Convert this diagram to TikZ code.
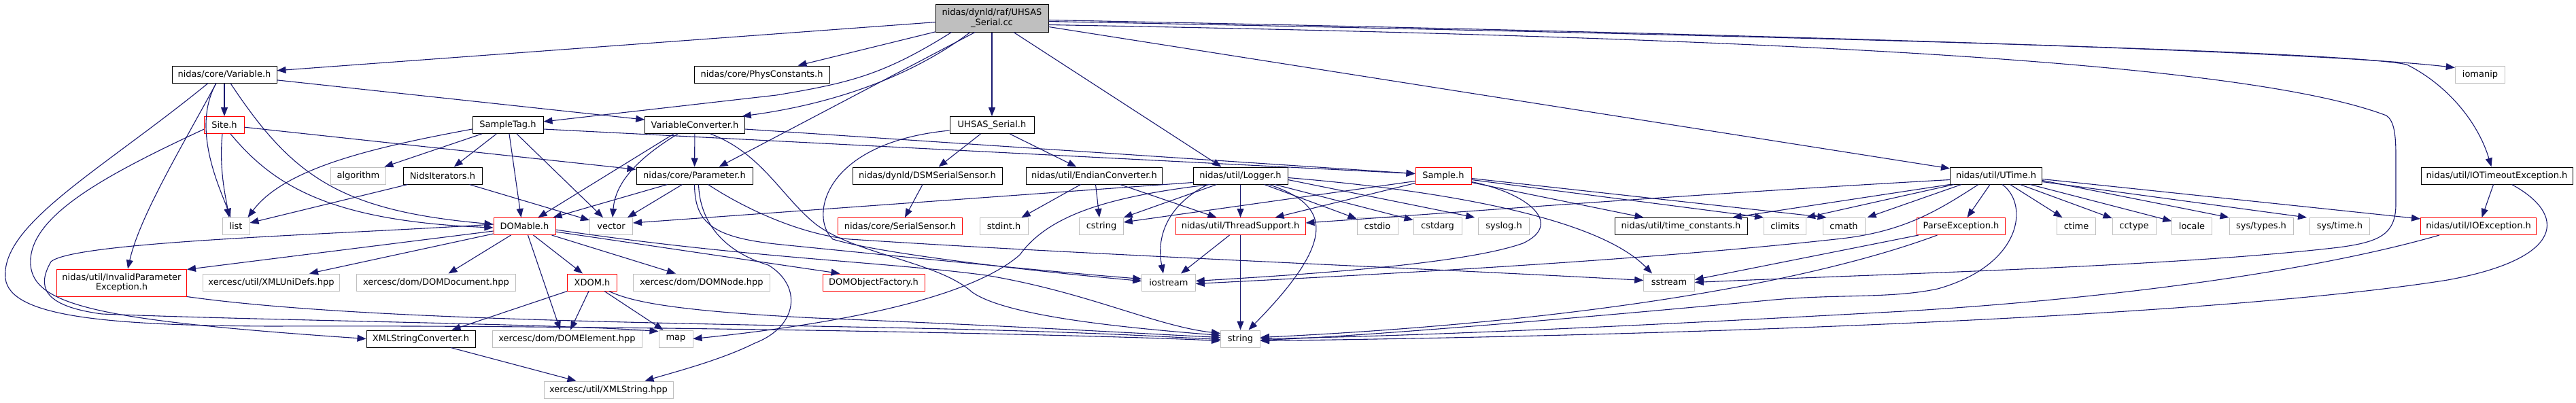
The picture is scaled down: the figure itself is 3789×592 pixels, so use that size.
\documentclass[tikz,border=0pt]{standalone}
\usepackage{fontspec}
\setmainfont{DejaVu Sans}
\usetikzlibrary{arrows.meta,calc}
\definecolor{edgec}{HTML}{191970}
\definecolor{greyb}{HTML}{BFBFBF}
\tikzset{
 base/.style={rectangle, inner sep=0pt, minimum height=25pt, font=\fontsize{13}{14.5}\selectfont, line width=1pt, fill=white, text=black},
 doc/.style={base, draw=black},
 redn/.style={base, draw=red},
 sys/.style={base, draw=greyb},
 root/.style={base, draw=black, fill=greyb},
 conn/.style={draw=edgec, line width=1.1pt, arrows={-Triangle[length=13pt,width=10pt]}},
}
\begin{document}
\begin{tikzpicture}[x=1pt,y=-1pt]
\useasboundingbox (0,0) rectangle (3789,592);
% nodes
\node[root, minimum width=166pt, minimum height=41pt, align=center] (cc) at (1459,26.5) {nidas/dynld/raf/UHSAS\\\_Serial.cc};
\node[doc, minimum width=154pt] (var) at (330,109.5) {nidas/core/Variable.h};
\node[doc, minimum width=199pt] (phys) at (1120.5,109.5) {nidas/core/PhysConstants.h};
\node[sys, minimum width=73.5pt] (iomanip) at (3648,109.5) {iomanip};
\node[redn, minimum width=58.5pt] (site) at (330,184) {Site.h};
\node[doc, minimum width=104pt] (stag) at (747,184) {SampleTag.h};
\node[doc, minimum width=146.5pt] (vconv) at (1022,184) {VariableConverter.h};
\node[doc, minimum width=124pt] (uhsash) at (1459,184) {UHSAS\_Serial.h};
\node[sys, minimum width=81.5pt] (algorithm) at (527,258.5) {algorithm};
\node[doc, minimum width=116pt] (nids) at (651,258.5) {NidsIterators.h};
\node[doc, minimum width=171pt] (param) at (1021.5,258.5) {nidas/core/Parameter.h};
\node[doc, minimum width=220pt] (dsmser) at (1364,258.5) {nidas/dynld/DSMSerialSensor.h};
\node[doc, minimum width=200pt] (endian) at (1609.5,258.5) {nidas/util/EndianConverter.h};
\node[doc, minimum width=139pt] (logger) at (1824.5,258.5) {nidas/util/Logger.h};
\node[redn, minimum width=82pt] (sample) at (2123,258.5) {Sample.h};
\node[doc, minimum width=135pt] (utime) at (2936,258.5) {nidas/util/UTime.h};
\node[doc, minimum width=223pt] (iotimeout) at (3672.5,258.5) {nidas/util/IOTimeoutException.h};
\node[sys, minimum width=40pt] (list) at (347,333) {list};
\node[redn, minimum width=91pt] (domable) at (771.5,333) {DOMable.h};
\node[sys, minimum width=63pt] (vector) at (899,333) {vector};
\node[redn, minimum width=183.5pt] (serialsensor) at (1324,333) {nidas/core/SerialSensor.h};
\node[sys, minimum width=71pt] (stdint) at (1476.5,333) {stdint.h};
\node[sys, minimum width=64.5pt] (cstring) at (1620,333) {cstring};
\node[redn, minimum width=191pt] (thread) at (1824.5,333) {nidas/util/ThreadSupport.h};
\node[sys, minimum width=60pt] (cstdio) at (2026,333) {cstdio};
\node[sys, minimum width=71pt] (cstdarg) at (2114.5,333) {cstdarg};
\node[sys, minimum width=74.5pt] (syslog) at (2212,333) {syslog.h};
\node[doc, minimum width=195pt] (timec) at (2472.5,333) {nidas/util/time\_constants.h};
\node[sys, minimum width=62pt] (climits) at (2625.5,333) {climits};
\node[sys, minimum width=62pt] (cmath) at (2712,333) {cmath};
\node[redn, minimum width=130pt] (parseex) at (2884.5,333) {ParseException.h};
\node[sys, minimum width=57.5pt] (ctime) at (3054,333) {ctime};
\node[sys, minimum width=64pt] (cctype) at (3139,333) {cctype};
\node[sys, minimum width=58.5pt] (locale) at (3224,333) {locale};
\node[sys, minimum width=94pt] (systypes) at (3326,333) {sys/types.h};
\node[sys, minimum width=88pt] (systime) at (3441.5,333) {sys/time.h};
\node[redn, minimum width=170pt] (ioex) at (3645.5,333) {nidas/util/IOException.h};
\node[redn, minimum width=191pt, minimum height=40pt, align=center] (invparam) at (179,416) {nidas/util/InvalidParameter\\Exception.h};
\node[sys, minimum width=201pt] (xmlunidefs) at (399,415.5) {xercesc/util/XMLUniDefs.hpp};
\node[sys, minimum width=234pt] (domdoc) at (641.5,415.5) {xercesc/dom/DOMDocument.hpp};
\node[redn, minimum width=72.5pt] (xdom) at (871,415.5) {XDOM.h};
\node[sys, minimum width=201pt] (domnode) at (1032,415.5) {xercesc/dom/DOMNode.hpp};
\node[redn, minimum width=150pt] (domobjf) at (1285,415.5) {DOMObjectFactory.h};
\node[sys, minimum width=78.5pt] (iostream) at (1719,415.5) {iostream};
\node[sys, minimum width=74.5pt] (sstream) at (2455,415.5) {sstream};
\node[doc, minimum width=160pt] (xsc) at (619,498.5) {XMLStringConverter.h};
\node[sys, minimum width=220pt] (domel) at (834,498.5) {xercesc/dom/DOMElement.hpp};
\node[sys, minimum width=50pt] (map) at (994,498.5) {map};
\node[sys, minimum width=58pt] (string) at (1824.5,498.5) {string};
\node[sys, minimum width=190pt] (xmlstring) at (895,573.5) {xercesc/util/XMLString.hpp};
% edges from root
\draw[conn] (cc) -- (var);
\draw[conn] (cc) -- (phys);
\draw[conn] ($(cc.south west)+(24,0)$) .. controls (1300,110) and (1250,122) .. (1142,140) -- ($(stag.east)+(0,-5)$);
\draw[conn] ($(cc.south)+(-32,0)$) .. controls (1330,120) and (1210,155) .. ($(vconv.north east)+(-4,0)$);
\draw[conn] ($(cc.south)+(-25,0)$) -- ($(param.north)+(36,0)$);
\draw[conn] (cc) -- (uhsash);
\draw[conn] ($(cc.south)+(32,0)$) -- ($(logger.north)+(-28,0)$);
\draw[conn] (cc) -- (utime);
\draw[conn] ($(cc.east)+(0,3)$) .. controls (2600,50) and (3400,75) .. ($(iomanip.west)+(0,-10)$);
\draw[conn] ($(cc.east)+(0,5)$) .. controls (2600,52) and (3450,75) .. (3540,95) .. controls (3600,125) and (3645,180) .. ($(iotimeout.north)+(-8,0)$);
\draw[conn] ($(cc.east)+(0,10)$) .. controls (2600,55) and (3300,90) .. (3510,170) .. controls (3522,178) and (3524,200) .. (3524,230) -- (3524,300) .. controls (3524,345) and (3500,356) .. (3440,364) .. controls (3200,392) and (2800,402) .. (sstream.east);
% Variable.h
\draw[conn] (var) -- (site);
\draw[conn] (var) -- (vconv);
\draw[conn] ($(var.south)+(-12,0)$) .. controls (280,190) and (325,280) .. ($(list.north)+(-8,0)$);
\draw[conn] ($(var.south)+(-12,0)$) .. controls (265,220) and (205,320) .. ($(invparam.north)+(9,0)$);
\draw[conn] ($(var.south)+(9,0)$) .. controls (430,260) and (500,310) .. ($(domable.west)+(0,-3)$);
\draw[conn] ($(var.south)+(-24,0)$) .. controls (150,250) and (0,330) .. (8,410) .. controls (15,465) and (150,479) .. (400,480) .. controls (900,478) and (1600,492) .. ($(string.west)+(0,3)$);
% Site.h
\draw[conn] ($(site.south)+(-3,0)$) .. controls (322,250) and (332,290) .. ($(list.north)+(-10,0)$);
\draw[conn] (site) -- (param);
\draw[conn] ($(site.south)+(9,0)$) .. controls (400,270) and (480,325) .. ($(domable.west)+(0,2)$);
\draw[conn] ($(site.west)+(0,6)$) .. controls (150,260) and (40,320) .. (45,390) .. controls (50,450) and (150,472) .. (xsc.west);
% SampleTag.h
\draw[conn] (stag) -- (algorithm);
\draw[conn] (stag) -- (nids);
\draw[conn] ($(stag.west)+(0,6)$) .. controls (560,215) and (420,245) .. ($(list.north east)+(-3,0)$);
\draw[conn] ($(stag.south)+(2,0)$) -- ($(domable.north)+(-5,0)$);
\draw[conn] ($(stag.south)+(13,0)$) -- ($(vector.north)+(-12,0)$);
\draw[conn] ($(stag.east)+(0,6)$) -- ($(sample.west)+(0,-3)$);
% VariableConverter.h
\draw[conn] ($(vconv.south)+(-31,0)$) -- ($(domable.north)+(20,0)$);
\draw[conn] ($(vconv.south)+(-25,0)$) .. controls (935,235) and (905,270) .. ($(vector.north)+(2,0)$);
\draw[conn] (vconv) -- (param);
\draw[conn] ($(vconv.east)+(0,6)$) -- ($(sample.west)+(0,-3)$);
\draw[conn] ($(vconv.south)+(23,0)$) .. controls (1120,225) and (1150,290) .. (1200,330) .. controls (1260,375) and (1380,385) .. (1430,430) .. controls (1480,465) and (1650,482) .. ($(string.west)+(0,-5)$);
% Parameter.h
\draw[conn] ($(param.south)+(-40,0)$) -- ($(domable.north east)+(-4,0)$);
\draw[conn] ($(param.south)+(-18,0)$) -- ($(vector.north east)+(-8,0)$);
\draw[conn] (param.south) .. controls (1022,330) and (1050,350) .. (1150,360) .. controls (1400,385) and (1550,400) .. ($(iostream.west)+(0,-5)$);
\draw[conn] ($(param.south)+(6,0)$) .. controls (1030,340) and (1080,375) .. (1130,390) .. controls (1180,420) and (1175,480) .. (1110,505) .. controls (1060,530) and (990,548) .. ($(xmlstring.north east)+(-42,0)$);
\draw[conn] ($(param.south)+(20,0)$) .. controls (1100,310) and (1180,345) .. (1250,352) .. controls (1600,375) and (2100,395) .. ($(sstream.west)+(0,-3)$);
% UHSAS_Serial.h
\draw[conn] (uhsash) -- (dsmser);
\draw[conn] (uhsash) -- (endian);
\draw[conn] ($(uhsash.south west)+(0,-5)$) .. controls (1210,210) and (1190,320) .. (1225,352) .. controls (1300,375) and (1550,402) .. ($(iostream.west)+(0,-2)$);
\draw[conn] (dsmser) -- (serialsensor);
% EndianConverter.h
\draw[conn] ($(endian.south)+(-20,0)$) -- ($(stdint.north east)+(-10,0)$);
\draw[conn] ($(endian.south)+(2,0)$) -- ($(cstring.north)+(-3,0)$);
\draw[conn] ($(endian.south)+(38,0)$) -- ($(thread.north)+(-35,0)$);
% Logger.h
\draw[conn] ($(logger.west)+(0,10)$) -- ($(vector.east)+(0,-5)$);
\draw[conn] ($(logger.south)+(-35,0)$) -- (cstring.north east);
\draw[conn] ($(logger.south)+(-44,0)$) .. controls (1620,290) and (1540,320) .. (1500,375) .. controls (1420,445) and (1200,480) .. (map.east);
\draw[conn] ($(logger.south)+(-48,0)$) .. controls (1720,300) and (1700,345) .. ($(iostream.north)+(-8,0)$);
\draw[conn] (logger) -- (thread);
\draw[conn] ($(logger.south)+(42,0)$) .. controls (1950,300) and (1975,345) .. ($(string.north)+(12,0)$);
\draw[conn] (logger) -- (cstdio);
\draw[conn] (logger) -- (cstdarg);
\draw[conn] ($(logger.east)+(0,6)$) -- ($(syslog.north west)+(-5,0)$);
\draw[conn] ($(logger.east)+(0,3)$) .. controls (2120,280) and (2350,320) .. ($(sstream.north)+(-25,0)$);
% ThreadSupport.h
\draw[conn] ($(thread.south)+(-16,0)$) -- ($(iostream.north)+(18,0)$);
\draw[conn] (thread) -- (string);
% Sample.h
\draw[conn] ($(sample.west)+(0,8)$) -- ($(cstring.east)+(0,-6)$);
\draw[conn] ($(sample.west)+(0,11)$) -- ($(thread.north east)+(-45,0)$);
\draw[conn] ($(sample.east)+(0,10)$) -- ($(timec.north west)+(43,0)$);
\draw[conn] ($(sample.east)+(0,6)$) -- (climits.north west);
\draw[conn] ($(sample.east)+(0,4)$) -- ($(cmath.north west)+(6,0)$);
\draw[conn] ($(sample.east)+(0,9)$) .. controls (2250,285) and (2300,330) .. (2240,358) .. controls (2150,390) and (1900,405) .. ($(iostream.east)+(0,-2)$);
% UTime.h
\draw[conn] ($(utime.west)+(0,6)$) .. controls (2500,285) and (2150,312) .. ($(thread.east)+(0,-5)$);
\draw[conn] (utime.south west) -- ($(timec.north east)+(-22,0)$);
\draw[conn] ($(utime.south)+(-62,0)$) -- (climits.north east);
\draw[conn] ($(utime.south)+(-51,0)$) -- ($(cmath.north east)+(3,0)$);
\draw[conn] ($(utime.south)+(-26,0)$) .. controls (2850,310) and (2800,342) .. (2700,352) .. controls (2400,385) and (2000,405) .. ($(iostream.east)+(0,2)$);
\draw[conn] (utime) -- (parseex);
\draw[conn] ($(utime.south)+(9,0)$) .. controls (2985,300) and (2975,390) .. (2850,425) .. controls (2780,440) and (2700,432) .. (2600,442) .. controls (2300,470) and (2000,495) .. ($(string.east)+(0,2)$);
\draw[conn] (utime) -- (ctime);
\draw[conn] (utime) -- (cctype);
\draw[conn] (utime) -- (locale);
\draw[conn] ($(utime.east)+(0,7)$) -- (systypes.north west);
\draw[conn] ($(utime.east)+(0,9)$) -- ($(systime.north west)+(-4,0)$);
\draw[conn] ($(utime.east)+(0,5)$) -- ($(ioex.north west)+(0,2)$);
% ParseException.h
\draw[conn] ($(parseex.south west)+(3,0)$) -- ($(sstream.east)+(0,-4)$);
\draw[conn] ($(parseex.south)+(-35,0)$) .. controls (2650,420) and (2300,475) .. ($(string.east)+(0,-2)$);
% IOException.h
\draw[conn] ($(ioex.south west)+(28,0)$) .. controls (3400,400) and (3100,440) .. (2800,458) .. controls (2400,480) and (2100,494) .. (string.east);
% IOTimeoutException.h
\draw[conn] ($(iotimeout.south)+(-5,0)$) -- ($(ioex.north)+(5,0)$);
\draw[conn] ($(iotimeout.south)+(22,0)$) .. controls (3775,315) and (3775,380) .. (3600,412) .. controls (3300,460) and (2600,492) .. ($(string.east)+(0,3)$);
% DOMable.h
\draw[conn] ($(domable.west)+(0,7)$) -- ($(invparam.north east)+(0,1)$);
\draw[conn] ($(domable.south west)+(0,-2)$) -- ($(xmlunidefs.north east)+(-45,0)$);
\draw[conn] ($(domable.south)+(-20,0)$) -- ($(domdoc.north)+(18,0)$);
\draw[conn] ($(domable.south)+(5,0)$) -- ($(domel.north)+(-10,0)$);
\draw[conn] ($(domable.south)+(13,0)$) -- ($(xdom.north)+(-14,0)$);
\draw[conn] ($(domable.south east)+(-6,0)$) -- ($(domnode.north)+(-38,0)$);
\draw[conn] ($(domable.east)+(0,8)$) -- ($(domobjf.north west)+(26,0)$);
\draw[conn] ($(domable.east)+(0,5)$) .. controls (1100,380) and (1300,385) .. (1450,405) .. controls (1600,430) and (1700,480) .. ($(string.west)+(0,-8)$);
\draw[conn] ($(domable.west)+(0,-3)$) .. controls (500,345) and (110,355) .. (75,385) .. controls (55,420) and (60,450) .. (150,462) .. controls (400,472) and (800,476) .. ($(map.north west)+(0,2)$);
% XDOM.h
\draw[conn] (xdom.south west) -- ($(xsc.north east)+(-35,0)$);
\draw[conn] ($(xdom.south)+(-5,0)$) -- ($(domel.north)+(5,0)$);
\draw[conn] ($(xdom.south)+(18,0)$) -- ($(map.north west)+(7,0)$);
\draw[conn] ($(xdom.south east)+(-12,0)$) .. controls (930,445) and (1000,458) .. (1200,468) .. controls (1500,480) and (1700,492) .. ($(string.west)+(0,-2)$);
% InvalidParameterException.h
\draw[conn] (invparam.south east) .. controls (500,468) and (900,474) .. (1300,482) .. controls (1600,488) and (1700,495) .. ($(string.west)+(0,1)$);
% XMLStringConverter.h
\draw[conn] ($(xsc.south)+(44,0)$) -- ($(xmlstring.north west)+(48,0)$);
% NidsIterators.h
\draw[conn] ($(nids.south west)+(7,0)$) -- ($(list.east)+(0,-5)$);
\draw[conn] ($(nids.south east)+(-19,0)$) -- ($(vector.north west)+(0,4)$);
\end{tikzpicture}
\end{document}
